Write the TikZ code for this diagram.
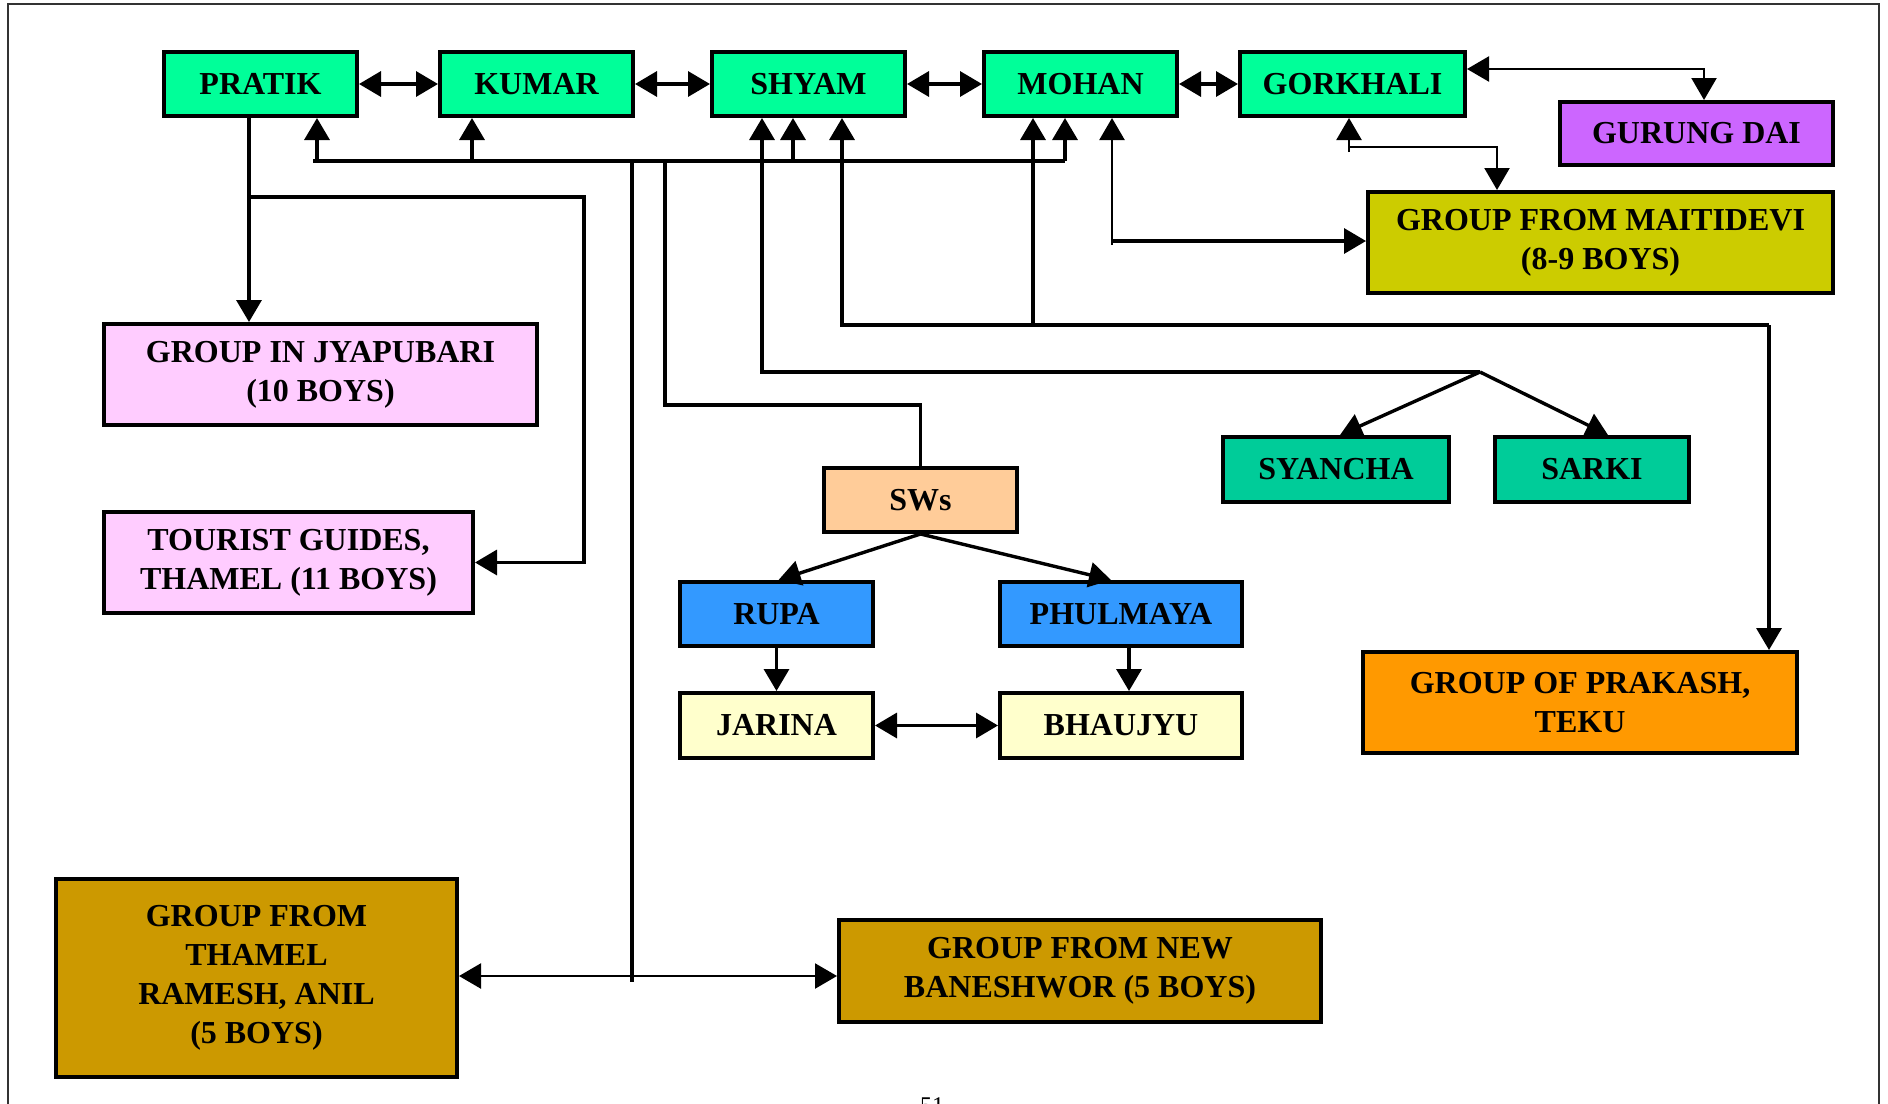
\documentclass[tikz,border=0pt]{standalone}
\usepackage{fontspec}
\setmainfont{Liberation Serif}
\usetikzlibrary{arrows.meta}

\definecolor{cGreen}{HTML}{00FF99}
\definecolor{cPurple}{HTML}{CC66FF}
\definecolor{cOlive}{HTML}{CCCC00}
\definecolor{cPink}{HTML}{FFCCFF}
\definecolor{cPeach}{HTML}{FFCC99}
\definecolor{cBlue}{HTML}{3399FF}
\definecolor{cCream}{HTML}{FFFFCC}
\definecolor{cTeal}{HTML}{00CC99}
\definecolor{cOrange}{HTML}{FF9900}
\definecolor{cGold}{HTML}{CC9900}

\tikzset{
  box/.style={draw, line width=2pt, inner sep=0pt, align=center,
    font=\bfseries\fontsize{16}{19.5}\selectfont},
  sz/.style 2 args={minimum width={#1*0.5pt}, minimum height={#2*0.5pt}},
  conn/.style={line width=1.7pt, >={Triangle[length=11pt,width=12.5pt]}},
  thinconn/.style={line width=1.15pt, >={Triangle[length=11pt,width=12.5pt]}},
}

\begin{document}
\begin{tikzpicture}[x=0.5pt, y=-0.5pt]
\useasboundingbox (0,0) rectangle (1888,1103);

% page frame and page number
\draw[line width=1pt, black!80] (8,1120) -- (8,4) -- (1879,4) -- (1879,1120);
\node[inner sep=0pt, anchor=north, font=\fontsize{12}{14}\selectfont] (pagenum) at (932,1097) {51};

% top row
\node[box, sz={193}{64}, fill=cGreen] (pratik)   at (260.5,84)  {PRATIK};
\node[box, sz={193}{64}, fill=cGreen] (kumar)    at (536.5,84)  {KUMAR};
\node[box, sz={193}{64}, fill=cGreen] (shyam)    at (808.5,84)  {SHYAM};
\node[box, sz={193}{64}, fill=cGreen] (mohan)    at (1080.5,84) {MOHAN};
\node[box, sz={225}{64}, fill=cGreen] (gorkhali) at (1352.5,84) {GORKHALI};

\node[box, sz={273}{63}, fill=cPurple] (gurung) at (1696.5,133.5) {GURUNG DAI};
\node[box, sz={465}{101}, fill=cOlive] (maitidevi) at (1600.5,242.5) {GROUP FROM MAITIDEVI\\(8-9 BOYS)};

% left groups
\node[box, sz={433}{101}, fill=cPink] (jyapubari) at (320.5,374.5) {GROUP IN JYAPUBARI\\(10 BOYS)};
\node[box, sz={369}{101}, fill=cPink] (tourist)   at (288.5,562.5) {TOURIST GUIDES,\\THAMEL (11 BOYS)};

% SWs tree
\node[box, sz={193}{64}, fill=cPeach] (sws)      at (920.5,500)  {SWs};
\node[box, sz={193}{64}, fill=cBlue]  (rupa)     at (776.5,614)  {RUPA};
\node[box, sz={242}{64}, fill=cBlue]  (phulmaya) at (1121,614)   {PHULMAYA};
\node[box, sz={193}{65}, fill=cCream] (jarina)   at (776.5,725.5) {JARINA};
\node[box, sz={242}{65}, fill=cCream] (bhaujyu)  at (1121,725.5) {BHAUJYU};

% right groups
\node[box, sz={226}{65}, fill=cTeal]   (syancha) at (1336,469.5) {SYANCHA};
\node[box, sz={194}{65}, fill=cTeal]   (sarki)   at (1592,469.5) {SARKI};
\node[box, sz={434}{101}, fill=cOrange] (prakash) at (1580,702.5) {GROUP OF PRAKASH,\\TEKU};

% bottom groups
\node[box, sz={401}{198}, fill=cGold] (thamel)    at (256.5,978) {GROUP FROM\\THAMEL\\RAMESH, ANIL\\(5 BOYS)};
\node[box, sz={482}{102}, fill=cGold] (baneshwor) at (1080,971)  {GROUP FROM NEW\\BANESHWOR (5 BOYS)};

% links along the top row
\draw[conn, <->] (pratik.east) -- (kumar.west);
\draw[conn, <->] (kumar.east) -- (shyam.west);
\draw[conn, <->] (shyam.east) -- (mohan.west);
\draw[conn, <->] (mohan.east) -- (gorkhali.west);

% common bus under the top row
\coordinate (busL) at (313,161);
\coordinate (busR) at (1065,161);
\coordinate (r1) at (317,161);
\coordinate (r2) at (472,161);
\coordinate (r3) at (793,161);
\draw[conn] (busL) -- (busR);
\draw[conn, ->] (r1) -- (r1 |- pratik.south);
\draw[conn, ->] (r2) -- (r2 |- kumar.south);
\draw[conn, ->] (r3) -- (r3 |- shyam.south);
\draw[conn, ->] (busR) -- (busR |- mohan.south);

% bus down to the bottom groups
\coordinate (d1) at (632,163);
\coordinate (d1b) at (632,982);
\coordinate (hb) at (632,976);
\draw[conn] (d1) -- (d1b);
\draw[thinconn, <->] (thamel.east |- hb) -- (baneshwor.west |- hb);

% bus down to SWs
\coordinate (d2) at (665,163);
\coordinate (swk) at (920.5,405);
\draw[conn] (d2) |- (swk) -- (sws.north);

% PRATIK to the left groups
\coordinate (pk) at (249,197);
\coordinate (tg) at (584,197);
\draw[conn, ->] (pk |- pratik.south) -- (pk |- jyapubari.north);
\draw[conn, ->] (pk) -- (tg) |- (tourist.east);

% SHYAM with SYANCHA and SARKI
\coordinate (sy) at (762,372);
\coordinate (apex) at (1480,372);
\draw[conn, ->] (apex) -- (sy) -- (sy |- shyam.south);
\draw[conn, ->] (apex) -- ([xshift=2pt]syancha.north);
\draw[conn, ->] (apex) -- ([xshift=8pt]sarki.north);

% SHYAM and MOHAN with PRAKASH
\coordinate (pk1) at (842,325);
\coordinate (pk2) at (1769,325);
\coordinate (mk) at (1033,325);
\draw[conn, ->] (pk2) -- (pk1) -- (pk1 |- shyam.south);
\draw[conn, ->] (pk2) -- (pk2 |- prakash.north);
\draw[conn, ->] (mk) -- (mk |- mohan.south);

% MOHAN with MAITIDEVI
\coordinate (mt) at (1112,241);
\coordinate (mtb) at (1112,245);
\draw[thinconn, ->] (mtb) -- (mtb |- mohan.south);
\draw[conn, ->] (mt) -- (mt -| maitidevi.west);

% GORKHALI with GURUNG DAI
\coordinate (gg) at (1704,69);
\draw[thinconn, <->] (gorkhali.east |- gg) -- (gg) -- (gg |- gurung.north);

% GORKHALI with MAITIDEVI
\coordinate (gu) at (1349,147);
\coordinate (gub) at (1349,152);
\coordinate (gm) at (1497,147);
\draw[thinconn, ->] (gub) -- (gu |- gorkhali.south);
\draw[thinconn, ->] (gu) -- (gm) -- (gm |- maitidevi.north);

% SWs tree
\draw[conn, ->] (sws.south) -- ([xshift=1pt]rupa.north);
\draw[conn, ->] (sws.south) -- ([xshift=-5pt]phulmaya.north);
\draw[conn, ->] (rupa.south) -- (jarina.north);
\draw[conn, ->] ([xshift=4pt]phulmaya.south) -- ([xshift=4pt]bhaujyu.north);
\draw[conn, <->] (jarina.east) -- (bhaujyu.west);
\end{tikzpicture}
\end{document}
